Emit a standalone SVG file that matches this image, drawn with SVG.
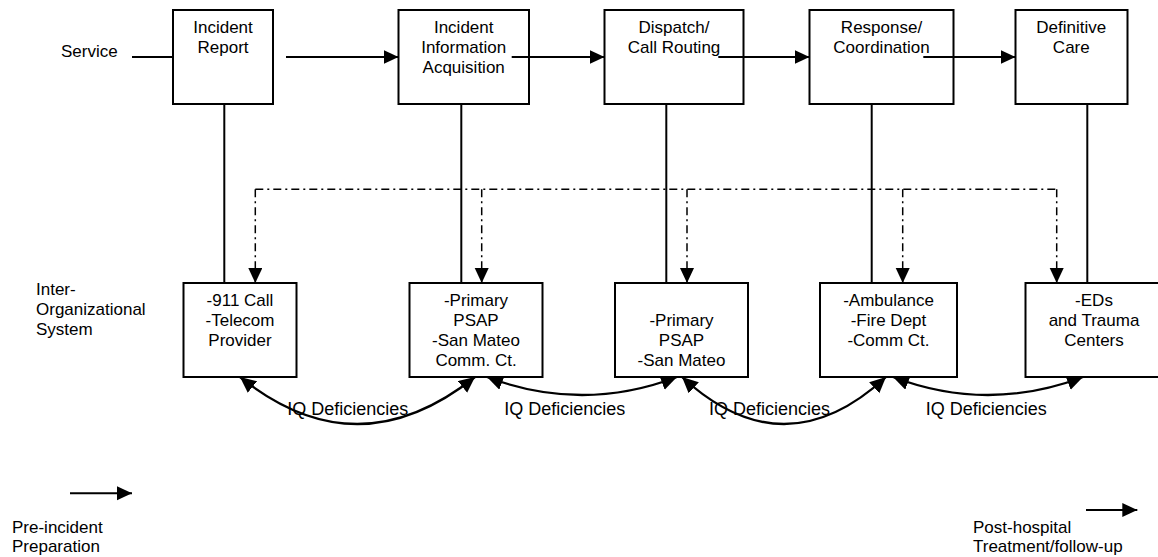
<svg xmlns="http://www.w3.org/2000/svg" width="1158" height="557" viewBox="0 0 1158 557">
<style>
  text { font-family: "Liberation Sans", Arial, sans-serif; font-size: 17px; fill: #000; }
  .c { text-anchor: middle; }
  .iq { font-size: 18px; }
  .box { fill: none; stroke: #000; stroke-width: 2; }
  .boxw { fill: #fff; stroke: #000; stroke-width: 2; }
  .ln { fill: none; stroke: #000; stroke-width: 2; }
  .dd { fill: none; stroke: #000; stroke-width: 1.5; stroke-dasharray: 8 4 2 4; }
  .cv { fill: none; stroke: #000; stroke-width: 2.3; }
</style>
<defs>
  <marker id="ah" markerUnits="userSpaceOnUse" markerWidth="16" markerHeight="15" refX="15" refY="7" orient="auto">
    <path d="M0,0 L15,7 L0,14 Z" fill="#000"/>
  </marker>
  <marker id="ah2" markerUnits="userSpaceOnUse" markerWidth="18" markerHeight="16" refX="16" refY="7.5" orient="auto-start-reverse">
    <path d="M0,0 L16,7.5 L0,15 Z" fill="#000"/>
  </marker>
</defs>
<rect width="1158" height="557" fill="#fff"/>

<g id="labels">
  <text x="61" y="57">Service</text>
  <text x="36" y="295">Inter-</text>
  <text x="36" y="315">Organizational</text>
  <text x="36" y="335">System</text>
  <text x="12" y="533">Pre-incident</text>
  <text x="12" y="552">Preparation</text>
  <text x="973" y="533">Post-hospital</text>
  <text x="973" y="552">Treatment/follow-up</text>
</g>

<g id="connectors">
  <!-- service flow -->
  <line class="ln" x1="132" y1="57" x2="173" y2="57"/>
  <line class="ln" x1="286" y1="57" x2="398.5" y2="57" marker-end="url(#ah)"/>
  <line class="ln" x1="511.7" y1="57" x2="604.5" y2="57" marker-end="url(#ah)"/>
  <line class="ln" x1="718.3" y1="57" x2="809.5" y2="57" marker-end="url(#ah)"/>
  <line class="ln" x1="923.3" y1="57" x2="1015.5" y2="57" marker-end="url(#ah)"/>
  <!-- verticals -->
  <line class="ln" x1="224.3" y1="104" x2="224.3" y2="283"/>
  <line class="ln" x1="461.3" y1="104" x2="461.3" y2="283"/>
  <line class="ln" x1="666.3" y1="104" x2="666.3" y2="283"/>
  <line class="ln" x1="871.7" y1="104" x2="871.7" y2="283"/>
  <line class="ln" x1="1087.3" y1="104" x2="1087.3" y2="283"/>
  <!-- dash-dot distribution -->
  <line class="dd" x1="255.3" y1="189.3" x2="1056.7" y2="189.3"/>
  <line class="dd" x1="255.3" y1="189.3" x2="255.3" y2="283" marker-end="url(#ah)"/>
  <line class="dd" x1="481.7" y1="189.3" x2="481.7" y2="283" marker-end="url(#ah)"/>
  <line class="dd" x1="687" y1="189.3" x2="687" y2="283" marker-end="url(#ah)"/>
  <line class="dd" x1="902.7" y1="189.3" x2="902.7" y2="283" marker-end="url(#ah)"/>
  <line class="dd" x1="1056.7" y1="189.3" x2="1056.7" y2="283" marker-end="url(#ah)"/>
  <!-- IQ deficiency curves -->
  <path class="cv" d="M240,377 Q357,471 475,377" marker-start="url(#ah2)" marker-end="url(#ah2)"/>
  <path class="cv" d="M487,377 Q582,413 677,377" marker-start="url(#ah2)" marker-end="url(#ah2)"/>
  <path class="cv" d="M682,377 Q784,471 886,377" marker-start="url(#ah2)" marker-end="url(#ah2)"/>
  <path class="cv" d="M893,377 Q988,413 1083,377" marker-start="url(#ah2)" marker-end="url(#ah2)"/>
  <!-- phase arrows -->
  <line class="ln" x1="70" y1="493.3" x2="132" y2="493.3" marker-end="url(#ah)"/>
  <line class="ln" x1="1086" y1="510" x2="1137.3" y2="510" marker-end="url(#ah)"/>
</g>

<g id="node-incident-report">
  <rect class="box" x="173" y="10" width="100" height="94"/>
  <text class="c" x="223" y="33">Incident</text>
  <text class="c" x="223" y="53">Report</text>
</g>
<g id="node-incident-info">
  <rect class="box" x="398.5" y="10" width="130.5" height="94"/>
  <text class="c" x="463.7" y="33">Incident</text>
  <text class="c" x="463.7" y="53">Information</text>
  <text class="c" x="463.7" y="73">Acquisition</text>
</g>
<g id="node-dispatch">
  <rect class="box" x="604.5" y="10" width="139" height="94"/>
  <text class="c" x="674" y="33">Dispatch/</text>
  <text class="c" x="674" y="53">Call Routing</text>
</g>
<g id="node-response">
  <rect class="box" x="809.5" y="10" width="144" height="94"/>
  <text class="c" x="881.5" y="33">Response/</text>
  <text class="c" x="881.5" y="53">Coordination</text>
</g>
<g id="node-definitive">
  <rect class="box" x="1015.5" y="10" width="112" height="94"/>
  <text class="c" x="1071.3" y="33">Definitive</text>
  <text class="c" x="1071.3" y="53">Care</text>
</g>

<g id="node-911">
  <rect class="boxw" x="183.5" y="283" width="113" height="94"/>
  <text class="c" x="240" y="306">-911 Call</text>
  <text class="c" x="240" y="326">-Telecom</text>
  <text class="c" x="240" y="346">Provider</text>
</g>
<g id="node-psap1">
  <rect class="boxw" x="409.5" y="283" width="133" height="94"/>
  <text class="c" x="476" y="306">-Primary</text>
  <text class="c" x="476" y="326">PSAP</text>
  <text class="c" x="476" y="346">-San Mateo</text>
  <text class="c" x="476" y="366">Comm. Ct.</text>
</g>
<g id="node-psap2">
  <rect class="boxw" x="615" y="283" width="133" height="94"/>
  <text class="c" x="681.5" y="326">-Primary</text>
  <text class="c" x="681.5" y="346">PSAP</text>
  <text class="c" x="681.5" y="366">-San Mateo</text>
</g>
<g id="node-ambulance">
  <rect class="boxw" x="820" y="283" width="137" height="94"/>
  <text class="c" x="888.5" y="306">-Ambulance</text>
  <text class="c" x="888.5" y="326">-Fire Dept</text>
  <text class="c" x="888.5" y="346">-Comm Ct.</text>
</g>
<g id="node-eds">
  <rect class="boxw" x="1025.5" y="283" width="138" height="94"/>
  <text class="c" x="1094" y="306">-EDs</text>
  <text class="c" x="1094" y="326">and Trauma</text>
  <text class="c" x="1094" y="346">Centers</text>
</g>

<g id="curve-labels">
  <text class="iq" x="287.3" y="415">IQ Deficiencies</text>
  <text class="iq" x="504.3" y="415">IQ Deficiencies</text>
  <text class="iq" x="709" y="415">IQ Deficiencies</text>
  <text class="iq" x="925.7" y="415">IQ Deficiencies</text>
</g>
</svg>
